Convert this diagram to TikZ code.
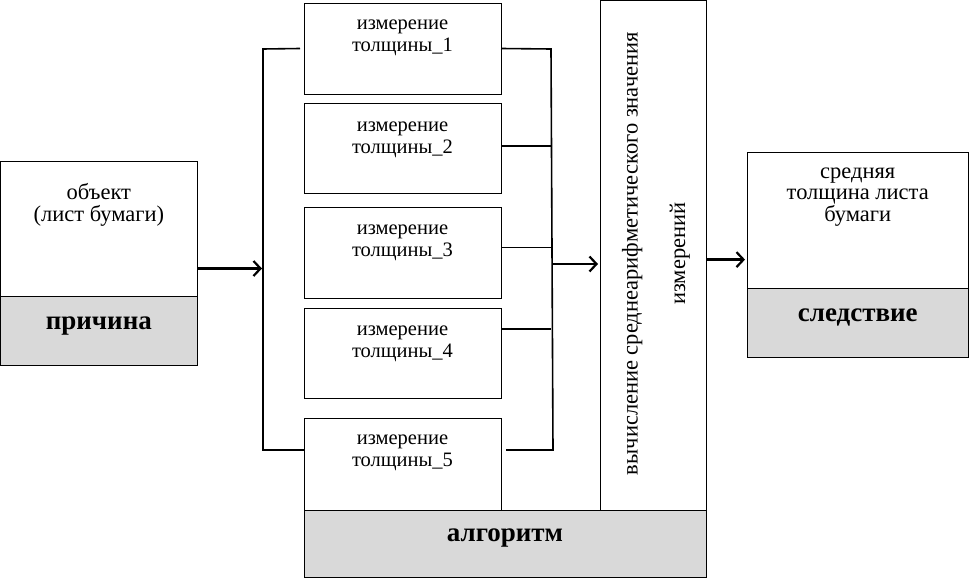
\documentclass[tikz,border=0pt]{standalone}
\usepackage{fontspec}
\setmainfont{Liberation Serif}
\usetikzlibrary{arrows.meta,calc}
\definecolor{greyfill}{HTML}{D9D9D9}
\begin{document}
\begin{tikzpicture}[x=1pt,y=-1pt,
  every node/.style={inner sep=0pt, outer sep=0pt},
  frame/.style={draw, line width=0.9pt, anchor=north west},
  greybox/.style={frame, fill=greyfill},
  txt/.style={align=center, font=\fontsize{22.5}{21.5}\selectfont},
  mtxt/.style={align=center, font=\fontsize{20.5}{22}\selectfont},
  btxt/.style={font=\fontsize{27}{30}\selectfont\bfseries},
  bus/.style={line width=1.6pt},
  link/.style={line width=1.1pt},
  arr/.style={line width=2.6pt, -{Straight Barb[length=7pt,width=15pt,line width=2.2pt]}}
]
\useasboundingbox (0,0) rectangle (969,578);

% cause
\node[frame, minimum width=196.5pt, minimum height=135pt] (cause) at (0.6,161) {};
\node[greybox, minimum width=196.5pt, minimum height=69pt] (causeg) at (0.6,296) {};
\node[txt] (causet) at ($(cause.north)+(0,44)$) {объект\\(лист бумаги)};
\node[btxt] (causel) at ($(causeg.center)+(0,-4)$) {причина};

% measurement boxes
\tikzset{mbox/.style={frame, minimum width=197pt, minimum height=91pt}}
\node[mbox] (m1) at (304,3) {};
\node[mbox, minimum height=90pt] (m2) at (304,103) {};
\node[mbox] (m3) at (304,207) {};
\node[mbox, minimum height=90pt] (m4) at (304,308) {};
\node[mbox, minimum height=92pt] (m5) at (304,418) {};
\node[mtxt] (t1) at ($(m1.north)+(0,35)$) {измерение\\толщины\_1};
\node[mtxt] (t2) at ($(m2.north)+(0,37)$) {измерение\\толщины\_2};
\node[mtxt] (t3) at ($(m3.north)+(0,36)$) {измерение\\толщины\_3};
\node[mtxt] (t4) at ($(m4.north)+(0,36)$) {измерение\\толщины\_4};
\node[mtxt] (t5) at ($(m5.north)+(0,35)$) {измерение\\толщины\_5};

% algorithm bar and calculation box
\node[greybox, minimum width=402pt, minimum height=67pt] (alg) at (304,510) {};
\node[btxt] (algl) at ($(alg.center)+(0,-5)$) {алгоритм};
\node[frame, minimum width=106pt, minimum height=510pt] (calc) at (600,0.6) {};
\node[txt, rotate=90] (calct) at ($(calc.center)+(3,-2)$) {вычисление среднеарифметического значения\\[26pt]измерений};

% effect
\node[frame, minimum width=221.5pt, minimum height=136pt] (eff) at (747,152) {};
\node[greybox, minimum width=221.5pt, minimum height=69pt] (effg) at (747,288) {};
\node[txt] (efft) at ($(eff.north)+(0,45)$) {средняя\\толщина листа\\бумаги};
\node[btxt] (effl) at ($(effg.center)+(0,-5)$) {следствие};

% buses
\coordinate (busLt) at (263,49);
\coordinate (busLb) at (263,450);
\coordinate (busRt) at (551,49);
\coordinate (busRb) at (553,450);
\coordinate (busRm) at (553,264);
\draw[bus] ([xshift=-4pt]m1.west) -- (busLt) -- (busLb) -- ([yshift=14pt]m5.west);
\draw[bus] (m1.east) -- (busRt) -- (busRb) -- ([xshift=5pt,yshift=14pt]m5.east);
\draw[link] ([yshift=2pt]m2.east) -- ([yshift=2pt]m2.east -| busRt);
\draw[link] ([yshift=5pt]m3.east) -- ([yshift=5pt]m3.east -| busRt);
\draw[link] ([yshift=24pt]m4.east) -- ([yshift=24pt]m4.east -| busRt);

% arrows
\draw[arr] ([yshift=-40pt]cause.east) -- ([yshift=-40pt,xshift=-1pt]cause.east -| busLt);
\draw[arr] (busRm) -- ([xshift=-2pt]busRm -| calc.west);
\draw[arr] ([yshift=-4pt]calc.east) -- ([yshift=-4pt,xshift=-2pt]calc.east -| eff.west);
\end{tikzpicture}
\end{document}
